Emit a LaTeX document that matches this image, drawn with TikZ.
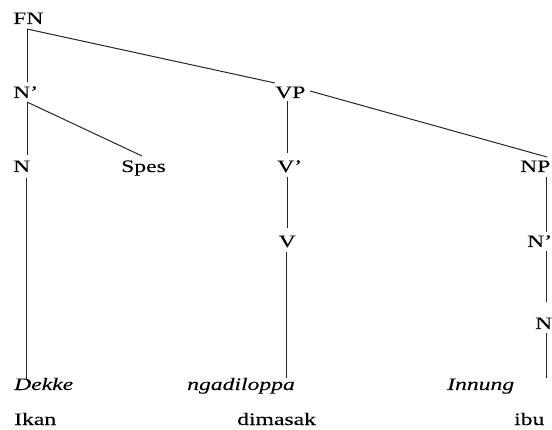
\documentclass[tikz,border=0pt]{standalone}
\usepackage{fontspec}
\setmainfont[FakeStretch=1.35,FakeBold=0.12]{Liberation Serif}
\begin{document}
\begin{tikzpicture}[x=1pt,y=-1pt,
  lab/.style={anchor=base west,inner sep=0pt,font=\fontsize{17.5}{20}\selectfont},
  ilab/.style={lab,font=\fontsize{17.5}{20}\selectfont\itshape},
  edge/.style={line width=1pt,draw=black!85}]
\useasboundingbox (0,0) rectangle (552,430);
\clip (0,0) rectangle (552,430);
% labels
\node[lab] (FN) at (13,24) {FN};
\node[lab] (N1) at (13,98) {N’};
\node[lab] (VP) at (275,98) {VP};
\node[lab] (N2) at (13,172) {N};
\node[lab] (Spes) at (121,172) {Spes};
\node[lab] (V1) at (277,172) {V’};
\node[lab] (NP) at (520,172) {NP};
\node[lab] (V2) at (278.5,247) {V};
\node[lab] (N3) at (527,247) {N’};
\node[lab] (N4) at (535,329) {N};
\node[ilab] (Dekke) at (14,390) {Dekke};
\node[ilab] (ngadi) at (187,390) {ngadiloppa};
\node[ilab] (Innung) at (447,390) {Innung};
\node[lab] (Ikan) at (14,425) {Ikan};
\node[lab] (dimasak) at (237,425) {dimasak};
\node[lab] (ibu) at (514,425) {ibu};
% connectors
\draw[edge] ([shift={(14,5)}]FN.base west) -- ([shift={(14,-16)}]N1.base west);
\draw[edge] ([shift={(14,5)}]FN.base west) -- ([shift={(0,-15)}]VP.base west);
\draw[edge] ([shift={(14,4)}]N1.base west) -- ([shift={(14,-17)}]N2.base west);
\draw[edge] ([shift={(14,4)}]N1.base west) -- ([shift={(21,-16)}]Spes.base west);
\draw[edge] ([shift={(13,6)}]N2.base west) -- ([shift={(12,-10)}]Dekke.base west);
\draw[edge] ([shift={(12,3)}]VP.base west) -- ([shift={(10,-19)}]V1.base west);
\draw[edge] ([shift={(10,5)}]V1.base west) -- ([shift={(8.5,-19)}]V2.base west);
\draw[edge] ([shift={(7.5,5)}]V2.base west) -- ([shift={(99,-12)}]ngadi.base west);
\draw[edge] ([shift={(35,-7)}]VP.base west) -- ([shift={(27,-15)}]NP.base west);
\draw[edge] ([shift={(26,5)}]NP.base west) -- ([shift={(19,-15)}]N3.base west);
\draw[edge] ([shift={(19,4)}]N3.base west) -- ([shift={(11,-27)}]N4.base west);
\draw[edge] ([shift={(11,4)}]N4.base west) -- ([shift={(99,-12)}]Innung.base west);
\end{tikzpicture}
\end{document}
